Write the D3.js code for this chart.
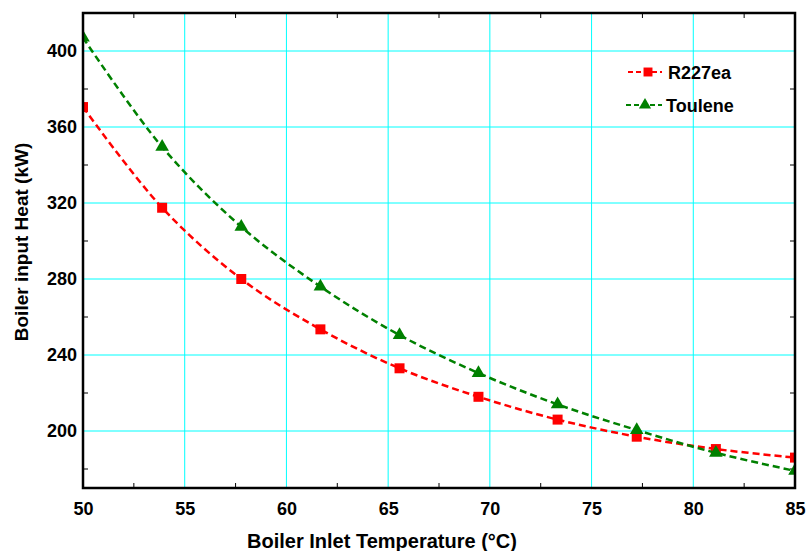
<!DOCTYPE html>
<html><head><meta charset="utf-8">
<script src="https://cdn.jsdelivr.net/npm/d3@7"></script>
<style>body{margin:0;background:#fff}svg{display:block}text{font-family:"Liberation Sans",Arial,sans-serif;font-weight:bold}</style>
</head><body>
<script>
const temps = [50, 53.89, 57.78, 61.67, 65.56, 69.44, 73.33, 77.22, 81.11, 85];
const r227ea = [370.5, 317.5, 280, 253.5, 233, 218, 206, 197, 190.5, 186];
const toulene = [407, 349.5, 307.5, 276, 250.5, 230.5, 214, 200.5, 188.5, 179];
const xTicks = [50, 55, 60, 65, 70, 75, 80, 85];
const yTicks = [200, 240, 280, 320, 360, 400];
const seriesNames = ["R227ea", "Toulene"];

const W = 807, H = 551;
const m = {l: 83, r: 795, t: 13, b: 488};
const svg = d3.select("body").append("svg").attr("width", W).attr("height", H);
const x = d3.scaleLinear().domain([50, 85]).range([m.l, m.r]);
const y = d3.scaleLinear().domain([170, 420]).range([m.b, m.t]);

// grid
svg.append("g").selectAll("line").data(xTicks.slice(1, -1)).join("line")
  .attr("x1", d => x(d)).attr("x2", d => x(d)).attr("y1", m.t).attr("y2", m.b)
  .attr("stroke", "#00ffff").attr("stroke-width", 1);
svg.append("g").selectAll("line").data(yTicks).join("line")
  .attr("y1", d => y(d)).attr("y2", d => y(d)).attr("x1", m.l).attr("x2", m.r)
  .attr("stroke", "#00ffff").attr("stroke-width", 1);

// axes with inward minor ticks
const xMinor = d3.range(52.5, 85, 5);
const yMinor = d3.range(180, 420, 40);
const gx = svg.append("g").attr("transform", `translate(0,${m.b})`)
  .call(d3.axisBottom(x).tickValues(xTicks).tickSize(0).tickPadding(14).tickFormat(d3.format("d")));
gx.select(".domain").remove();
gx.selectAll("text").attr("font-size", 18).attr("fill", "#000").style("font-family", "Liberation Sans, Arial").style("font-weight", "bold");
const gy = svg.append("g").attr("transform", `translate(${m.l},0)`)
  .call(d3.axisLeft(y).tickValues(yTicks).tickSize(0).tickPadding(6).tickFormat(d3.format("d")));
gy.select(".domain").remove();
gy.selectAll("text").attr("font-size", 18).attr("fill", "#000").style("font-family", "Liberation Sans, Arial").style("font-weight", "bold");

const tk = svg.append("g").attr("stroke", "#000").attr("stroke-width", 1);
xMinor.forEach(v => {
  tk.append("line").attr("x1", x(v)).attr("x2", x(v)).attr("y1", m.b).attr("y2", m.b - 5);
  tk.append("line").attr("x1", x(v)).attr("x2", x(v)).attr("y1", m.t).attr("y2", m.t + 5);
});
yMinor.forEach(v => {
  tk.append("line").attr("y1", y(v)).attr("y2", y(v)).attr("x1", m.l).attr("x2", m.l + 5);
  tk.append("line").attr("y1", y(v)).attr("y2", y(v)).attr("x1", m.r).attr("x2", m.r - 5);
});

// clip
svg.append("clipPath").attr("id", "clip").append("rect")
  .attr("x", m.l).attr("y", m.t).attr("width", m.r - m.l).attr("height", m.b - m.t);

const line = d3.line().x(d => x(d[0])).y(d => y(d[1])).curve(d3.curveCatmullRom.alpha(0.5));
const series = [
  {name: seriesNames[0], vals: r227ea, color: "#ff0000", shape: d3.symbolSquare, size: 100},
  {name: seriesNames[1], vals: toulene, color: "#008000", shape: d3.symbolTriangle, size: 80}
];
const plot = svg.append("g").attr("clip-path", "url(#clip)");
series.forEach(s => {
  const pts = temps.map((t, i) => [t, s.vals[i]]);
  plot.append("path").attr("d", line(pts)).attr("fill", "none")
    .attr("stroke", s.color).attr("stroke-width", 2.5).attr("stroke-dasharray", "7,4");
  plot.selectAll(null).data(pts).join("path")
    .attr("transform", d => `translate(${x(d[0])},${y(d[1])})`)
    .attr("d", d3.symbol().type(s.shape).size(s.size)).attr("fill", s.color);
});

// frame
svg.append("rect").attr("x", m.l).attr("y", m.t).attr("width", m.r - m.l).attr("height", m.b - m.t)
  .attr("fill", "none").attr("stroke", "#000").attr("stroke-width", 2.5);

// legend
const leg = [{y: 72, lx1: 628, lx2: 662, mx: 648, tx: 668}, {y: 105, lx1: 626, lx2: 662, mx: 645, tx: 666}];
series.forEach((s, i) => {
  const L = leg[i];
  svg.append("line").attr("x1", L.lx1).attr("x2", L.lx2).attr("y1", L.y).attr("y2", L.y)
    .attr("stroke", s.color).attr("stroke-width", 2).attr("stroke-dasharray", "5,3");
  svg.append("path").attr("transform", `translate(${L.mx},${L.y})`)
    .attr("d", d3.symbol().type(s.shape).size(s.size * 0.8)).attr("fill", s.color);
  svg.append("text").attr("x", L.tx).attr("y", L.y + 6.5).attr("font-size", 18).text(s.name);
});

// axis titles
svg.append("text").attr("x", 382).attr("y", 548).attr("text-anchor", "middle").attr("font-size", 20)
  .text("Boiler Inlet Temperature (°C)");
svg.append("text").attr("transform", "translate(28,242) rotate(-90)").attr("text-anchor", "middle")
  .attr("font-size", 19).text("Boiler input Heat (kW)");
</script>
</body></html>
